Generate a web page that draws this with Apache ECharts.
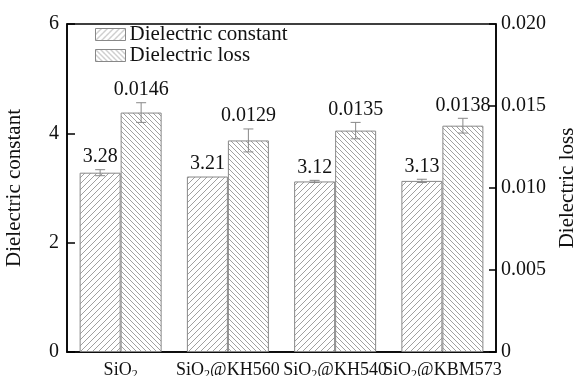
<!DOCTYPE html>
<html>
<head>
<meta charset="utf-8">
<script src="https://cdn.jsdelivr.net/npm/echarts@6/dist/echarts.min.js"></script>
<style>html,body{margin:0;padding:0;background:#fff;}#c{width:576px;height:376px;}</style>
</head>
<body>
<div id="c"></div>
<script>
const categories = ['SiO2', 'SiO2@KH560', 'SiO2@KH540', 'SiO2@KBM573'];
const categoryRich = ['{a|SiO}{s|2}', '{a|SiO}{s|2}{a|@KH560}', '{a|SiO}{s|2}{a|@KH540}', '{a|SiO}{s|2}{a|@KBM573}'];
const constantValues = [3.28, 3.21, 3.12, 3.13];
const constantErrors = [0.055, 0.0, 0.02, 0.03];
const lossValues = [0.0146, 0.0129, 0.0135, 0.0138];
const lossErrors = [0.0006, 0.0007, 0.0005, 0.00045];
const leftTicks = {min: 0, max: 6, interval: 2};
const rightTicks = {min: 0, max: 0.02, interval: 0.005};

const FONT = '"Liberation Serif", "Times New Roman", serif';
const BAR_W = 41;

function makePattern(dir, size) {
  const c = document.createElement('canvas');
  c.width = size; c.height = size;
  const ctx = c.getContext('2d');
  ctx.fillStyle = '#fff';
  ctx.fillRect(0, 0, size, size);
  ctx.strokeStyle = '#a0a0a0';
  ctx.lineWidth = 1;
  ctx.beginPath();
  if (dir === '/') {
    for (let k = -1; k <= 1; k++) {
      ctx.moveTo(k * size - 1, size + 1);
      ctx.lineTo(k * size + size + 1, -1);
    }
  } else {
    for (let k = -1; k <= 1; k++) {
      ctx.moveTo(k * size - 1, -1);
      ctx.lineTo(k * size + size + 1, size + 1);
    }
  }
  ctx.stroke();
  return c;
}
const patConst = {image: makePattern('/', 6), repeat: 'repeat'};
const patLoss = {image: makePattern('\\', 5), repeat: 'repeat'};

function errSeries(name, values, errors, yIdx, side, labelFmt) {
  return {
    type: 'custom',
    name: name + '_err',
    yAxisIndex: yIdx,
    silent: true,
    z: 5,
    data: values.map((v, i) => [i, v, errors[i]]),
    renderItem: function (params, api) {
      const i = api.value(0), v = api.value(1), e = api.value(2);
      const base = api.coord([i, v]);
      const x = base[0] + side * BAR_W / 2;
      const top = api.coord([i, v + e])[1];
      const bot = api.coord([i, v - e])[1];
      const cap = 5;
      const children = [];
      if (e > 0) {
        const st = {stroke: '#888', lineWidth: 1};
        children.push({type: 'line', shape: {x1: x, y1: top, x2: x, y2: bot}, style: st});
        children.push({type: 'line', shape: {x1: x - cap, y1: top, x2: x + cap, y2: top}, style: st});
        children.push({type: 'line', shape: {x1: x - cap, y1: bot, x2: x + cap, y2: bot}, style: st});
      }
      children.push({
        type: 'text',
        style: {
          text: labelFmt(v), x: x, y: Math.min(top, base[1]) - 3,
          align: 'center', verticalAlign: 'bottom',
          font: '20px ' + FONT, fill: '#111'
        }
      });
      return {type: 'group', children: children};
    }
  };
}

const chart = echarts.init(document.getElementById('c'), null, {renderer: 'canvas'});
chart.setOption({
  animation: false,
  backgroundColor: '#fff',
  grid: {left: 67, right: 80, top: 24, bottom: 24, show: true, borderColor: '#000', borderWidth: 1.5, backgroundColor: 'transparent', containLabel: false, outerBoundsMode: 'none'},
  legend: {
    orient: 'vertical', left: 90, top: 19, itemWidth: 30, itemHeight: 12, itemGap: 0,
    icon: 'rect',
    data: ['Dielectric constant', 'Dielectric loss'],
    textStyle: {fontFamily: FONT, fontSize: 21, color: '#111', lineHeight: 21, padding: [0, 0, 0, -1]},
    itemStyle: {borderColor: '#888', borderWidth: 1}
  },
  xAxis: {
    type: 'category', data: categories,
    axisLine: {show: true, lineStyle: {color: '#000', width: 1.5}},
    axisTick: {show: false},
    axisLabel: {
      margin: 8, interval: 0,
      formatter: (v, i) => categoryRich[i],
      rich: {
        a: {fontFamily: FONT, fontSize: 18, color: '#111'},
        s: {fontFamily: FONT, fontSize: 12, color: '#111', padding: [9, 0, 0, 0]}
      }
    }
  },
  yAxis: [
    {
      type: 'value', min: leftTicks.min, max: leftTicks.max, interval: leftTicks.interval,
      name: 'Dielectric constant', nameLocation: 'middle', nameGap: 42,
      nameTextStyle: {fontFamily: FONT, fontSize: 21, color: '#111'},
      axisLine: {show: true, lineStyle: {color: '#000', width: 1.5}},
      axisTick: {show: true, inside: true, length: 8, lineStyle: {color: '#000', width: 1.5}},
      axisLabel: {margin: 8, fontFamily: FONT, fontSize: 20, color: '#111'},
      splitLine: {show: false}
    },
    {
      type: 'value', min: rightTicks.min, max: rightTicks.max, interval: rightTicks.interval,
      position: 'right',
      name: 'Dielectric loss', nameLocation: 'middle', nameGap: 61,
      nameTextStyle: {fontFamily: FONT, fontSize: 21, color: '#111'},
      axisLine: {show: true, lineStyle: {color: '#000', width: 1.5}},
      axisTick: {show: true, inside: true, length: 7, lineStyle: {color: '#000', width: 1.5}},
      axisLabel: {margin: 5, fontFamily: FONT, fontSize: 20, color: '#111', formatter: v => v === 0 ? '0' : v.toFixed(3)},
      splitLine: {show: false}
    }
  ],
  series: [
    {
      name: 'Dielectric constant', type: 'bar', yAxisIndex: 0, data: constantValues,
      barWidth: BAR_W, barGap: '0%',
      itemStyle: {color: patConst, borderColor: '#888', borderWidth: 1}
    },
    {
      name: 'Dielectric loss', type: 'bar', yAxisIndex: 1, data: lossValues,
      barWidth: BAR_W, barGap: '0%',
      itemStyle: {color: patLoss, borderColor: '#888', borderWidth: 1}
    },
    errSeries('Dielectric constant', constantValues, constantErrors, 0, -1, v => v.toFixed(2)),
    errSeries('Dielectric loss', lossValues, lossErrors, 1, 1, v => v.toFixed(4))
  ]
});
</script>
</body>
</html>
